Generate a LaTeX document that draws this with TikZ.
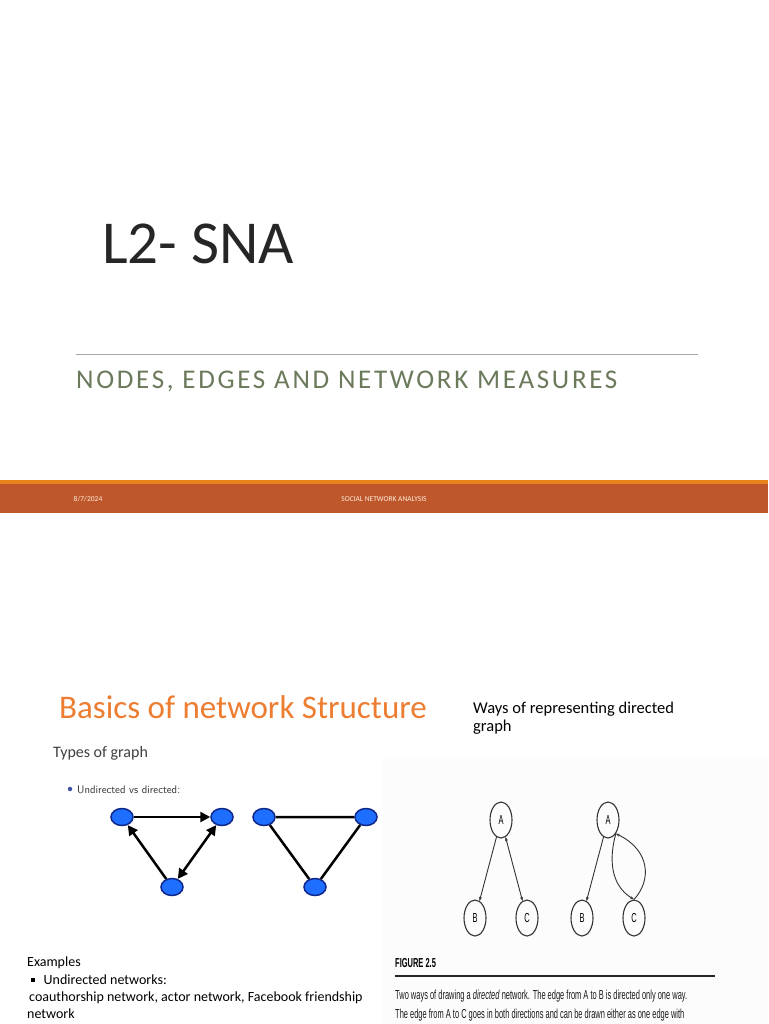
\documentclass[tikz,border=0pt]{standalone}
\usepackage{fontspec}
\setmainfont{Carlito}
\newfontfamily\spacedfont[LetterSpace=10]{Carlito}
\newfontfamily\narrowfont[FakeStretch=0.575]{Liberation Sans}
\usepackage{xcolor}
\usepackage{tikz}
\usetikzlibrary{arrows.meta, shapes.geometric, calc}

\definecolor{barorange}{RGB}{190,88,44}
\definecolor{stripeorange}{RGB}{232,130,26}
\definecolor{titleorange}{RGB}{237,125,49}
\definecolor{subgreen}{RGB}{108,122,92}
\definecolor{nodeblue}{RGB}{30,110,255}
\definecolor{nodeedge}{RGB}{15,40,140}

\tikzset{
  txt/.style={inner sep=0pt, anchor=base west},
  bluenode/.style={ellipse, draw=nodeedge, line width=1.5pt, fill=nodeblue,
    minimum width=22pt, minimum height=17pt, inner sep=0pt},
  heavyline/.style={line width=2.5pt, black},
  circnode/.style={ellipse, draw=black!80, line width=1.1pt, minimum width=22pt,
    minimum height=36pt, inner sep=0pt, font=\narrowfont\fontsize{13}{15}\selectfont},
  thinline/.style={line width=0.9pt, black!80},
  footertxt/.style={font=\fontsize{7.5}{9}\selectfont, text=white!85!orange},
  captxt/.style={txt, font=\narrowfont\fontsize{13}{15}\selectfont, text=black!90}
}

\begin{document}
\begin{tikzpicture}[x=1pt, y=-1pt, font=\fontsize{14}{17}\selectfont]
\useasboundingbox[fill=white] (0,0) rectangle (768,1024);

% -- Title slide --------------------------------------------------------------
\node[txt, font=\fontsize{61}{72}\selectfont, text=black!85] (title) at (102,263) {L2- SNA};
\draw[gray!70, line width=0.8pt] (76,354) -- (698,354);
\node[txt, font=\spacedfont\fontsize{27}{30}\selectfont, text=subgreen] (subtitle)
  at (76,388) {NODES, EDGES AND NETWORK MEASURES};

% footer bar
\fill[stripeorange] (0,480) rectangle (768,484);
\fill[barorange] (0,484) rectangle (768,513);
\node[footertxt] (date) at (88,499) {8/7/2024};
\node[footertxt] (footer) at (384,499) {SOCIAL NETWORK ANALYSIS};

% -- Second slide -------------------------------------------------------------
\node[txt, font=\fontsize{33}{38}\selectfont, text=titleorange] (heading) at (59,718) {Basics of network Structure};
\node[txt, font=\fontsize{16}{19}\selectfont, text=black!75] (types) at (53,757) {Types of graph};
\node[anchor=north west, inner sep=0pt, align=left, font=\fontsize{16.5}{17.5}\selectfont] (ways)
  at (473,702) {Ways of representing directed\\graph};

% -- Undirected vs directed ---------------------------------------------------
\node[circle, fill=nodeedge!80, inner sep=0pt, minimum size=4.5pt] (ball) at (70,789) {};
\node[txt, font=\sffamily\fontsize{11}{13}\selectfont, text=black!80] (uvd) at (77,793) {Undirected vs directed:};

\begin{scope}[>={Triangle[length=10pt,width=10pt]}]
  \node[bluenode] (d1) at (122,817) {};
  \node[bluenode] (d2) at (222,817) {};
  \node[bluenode] (d3) at (172,887) {};
  \draw[heavyline, ->] (d1) -- (d2);
  \draw[heavyline, ->] (d3) -- (d1);
  \draw[heavyline, <->] (d3) -- (d2);

  \node[bluenode] (u1) at (264,817) {};
  \node[bluenode] (u2) at (366,817) {};
  \node[bluenode] (u3) at (315,887) {};
  \draw[heavyline] (u1) -- (u2) -- (u3) -- (u1);
\end{scope}

% -- Figure 2.5 ---------------------------------------------------------------
\fill[gray!2] (383,757) rectangle (768,1024);

\begin{scope}[>={Stealth[length=4pt,width=3pt]}]
  \node[circnode] (A1) at (501,820) {A};
  \node[circnode] (B1) at (475,918) {B};
  \node[circnode] (C1) at (527,918) {C};
  \draw[thinline, ->] (A1) -- (B1);
  \draw[thinline, <->] (A1) -- (C1);

  \node[circnode] (A2) at (608,820) {A};
  \node[circnode] (B2) at (582,918) {B};
  \node[circnode] (C2) at (634,918) {C};
  \draw[thinline, ->] (A2) -- (B2);
  \draw[thinline, ->] (A2.-60) .. controls (609,858) and (610,885) .. (C2.north);
  \draw[thinline, ->] (C2.north) .. controls (652,880) and (650,850) .. (A2.-60);
\end{scope}

\node[txt, font=\narrowfont\bfseries\fontsize{13}{15}\selectfont] (figlabel) at (395,967) {FIGURE 2.5};
\draw[line width=2.5pt, black!85] (395,976) -- (715,976);
\node[captxt] (cap1)
  at (395,999) {Two ways of drawing a \textit{directed} network. The edge from A to B is directed only one way.};
\node[captxt] (cap2)
  at (395,1018) {The edge from A to C goes in both directions and can be drawn either as one edge with};

% -- Examples -----------------------------------------------------------------
\node[txt] (ex) at (27,966) {Examples};
\node[txt] (ex1) at (31,984) {\raisebox{2.5pt}{\rule{3.5pt}{3.5pt}}\hspace{9pt}Undirected networks:};
\node[txt] (ex2) at (29,1001) {coauthorship network, actor network, Facebook friendship};
\node[txt] (ex3) at (27,1018) {network};

\end{tikzpicture}
\end{document}
